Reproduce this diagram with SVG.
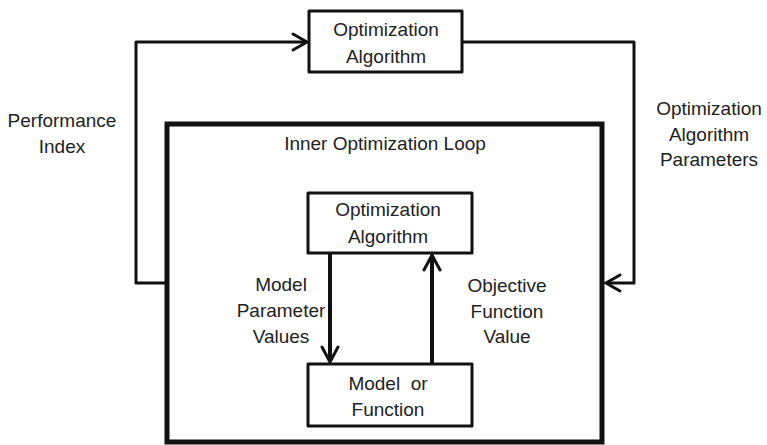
<svg xmlns="http://www.w3.org/2000/svg" width="767" height="445" viewBox="0 0 767 445">
<style>
.box{fill:#fff;stroke:#111;stroke-width:3;stroke-linejoin:round}
.big{fill:none;stroke:#111;stroke-width:5}
.ln{fill:none;stroke:#111;stroke-width:3;stroke-linejoin:round}
.thk{fill:none;stroke:#111;stroke-width:4}
.hd{fill:none;stroke:#111;stroke-width:3;stroke-linecap:round;stroke-linejoin:miter}
text{font-family:"Liberation Sans",Arial,sans-serif;font-size:19px;fill:#222;text-anchor:middle}
.pre{white-space:pre}
</style>
<rect width="767" height="445" fill="#fff"/>
<g id="inner-loop">
<rect class="big" x="167" y="124" width="435" height="318"/>
<text x="385" y="150">Inner Optimization Loop</text>
</g>
<g id="connectors">
<polyline class="ln" points="167,283 136,283 136,42 307,42"/>
<path class="hd" d="M293,34 L307,42 L293,50"/>
<polyline class="ln" points="462,42 634,42 634,283 606,283"/>
<path class="hd" d="M620,275 L606,283 L620,291"/>
<line class="thk" x1="330" y1="253" x2="330" y2="361"/>
<path class="hd" d="M322,347 L330,362 L338,347"/>
<line class="thk" x1="432" y1="364" x2="432" y2="256"/>
<path class="hd" d="M424,270 L432,255 L440,270"/>
</g>
<g id="outer-optimizer">
<rect class="box" x="309" y="11" width="153" height="61"/>
<text x="386" y="36">Optimization</text>
<text x="386" y="63">Algorithm</text>
</g>
<g id="inner-optimizer">
<rect class="box" x="308" y="193" width="164" height="60"/>
<text x="388" y="216">Optimization</text>
<text x="388" y="243">Algorithm</text>
</g>
<g id="model">
<rect class="box" x="308" y="364" width="164" height="62"/>
<text class="pre" x="388" y="390" xml:space="preserve">Model  or</text>
<text x="388" y="416">Function</text>
</g>
<g id="labels">
<text x="62" y="127">Performance</text>
<text x="62" y="153">Index</text>
<text x="709" y="115">Optimization</text>
<text x="709" y="141">Algorithm</text>
<text x="709" y="166">Parameters</text>
<text x="281" y="291">Model</text>
<text x="281" y="317">Parameter</text>
<text x="281" y="343">Values</text>
<text x="507" y="292">Objective</text>
<text x="507" y="318">Function</text>
<text x="507" y="343">Value</text>
</g>
</svg>
